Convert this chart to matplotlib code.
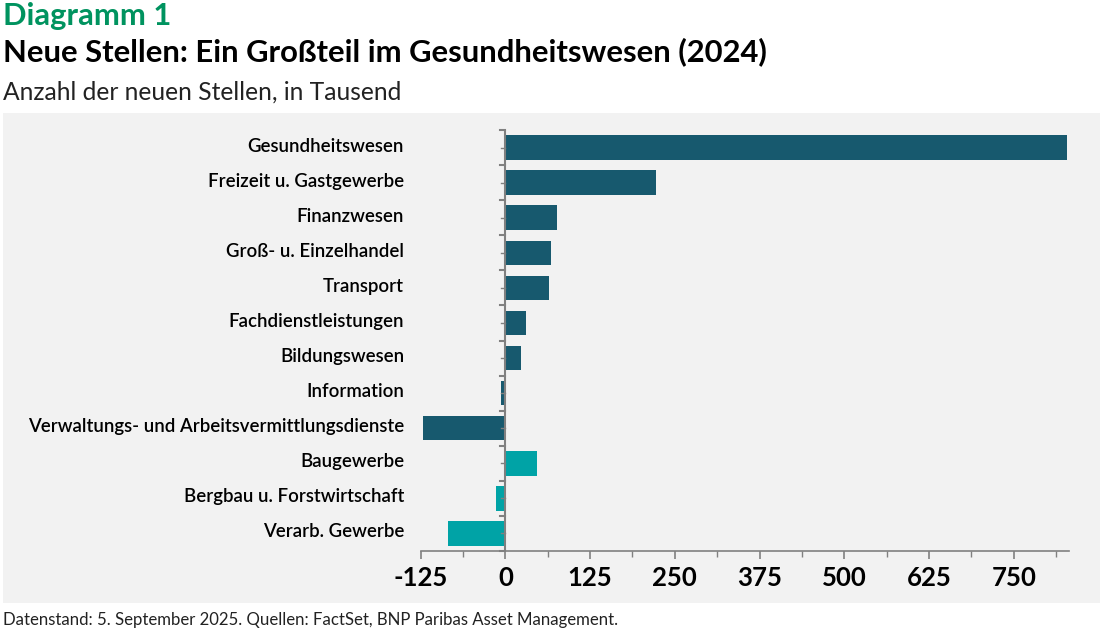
import matplotlib
matplotlib.use("Agg")
import matplotlib.pyplot as plt
from matplotlib.patches import Rectangle
from matplotlib.ticker import MultipleLocator
from matplotlib.transforms import ScaledTranslation

categories = [
    "Gesundheitswesen",
    "Freizeit u. Gastgewerbe",
    "Finanzwesen",
    "Groß- u. Einzelhandel",
    "Transport",
    "Fachdienstleistungen",
    "Bildungswesen",
    "Information",
    "Verwaltungs- und Arbeitsvermittlungsdienste",
    "Baugewerbe",
    "Bergbau u. Forstwirtschaft",
    "Verarb. Gewerbe",
]
values = [828, 222, 76, 67, 64, 31, 23, -6, -121, 47, -14, -84]
groups = ["service"] * 9 + ["goods"] * 3
xticks = [-125, 0, 125, 250, 375, 500, 625, 750]

colors = {"service": "#17596E", "goods": "#00A3A6"}
FONT = "Lato"
plt.rcParams["font.family"] = [FONT, "DejaVu Sans"]

W, H = 1102, 631
fig = plt.figure(figsize=(W / 100, H / 100), dpi=100)
fig.patch.set_facecolor("white")

# panel background
fig.add_artist(Rectangle((3 / W, 1 - 603 / H), 1097 / W, 490 / H,
                         transform=fig.transFigure, facecolor="#F2F2F2",
                         edgecolor="none", zorder=0))

ax = fig.add_axes([420.7 / W, 1 - 551 / H, (1069.3 - 420.7) / W, (551 - 130) / H])
ax.set_facecolor("none")

y = list(range(len(categories)))
ax.barh(y, values, height=0.7, color=[colors[g] for g in groups], zorder=2)
ax.set_ylim(len(categories) - 0.5, -0.5)
ax.set_xlim(-125, 832)

for s in ["top", "right", "left"]:
    ax.spines[s].set_visible(False)
ax.spines["bottom"].set_color("#808080")
ax.spines["bottom"].set_linewidth(1.2)
ax.axvline(0, color="#808080", lw=1.5, zorder=3)

ax.set_xticks(xticks)
ax.set_xticklabels([str(v) for v in xticks])
ax.xaxis.set_minor_locator(MultipleLocator(62.5))
ax.tick_params(axis="x", which="major", length=6, width=1.2, color="#808080",
               labelsize=18.5, pad=5)
ax.tick_params(axis="x", which="minor", length=4, width=1.0, color="#808080")
for lab in ax.get_xticklabels():
    lab.set_fontweight("bold")

ax.set_yticks(y)
ax.set_yticklabels(categories)
ax.tick_params(axis="y", which="major", length=0, labelsize=13.4, pad=12)
shift = ScaledTranslation(0, 3 / 100, fig.dpi_scale_trans)
for lab in ax.get_yticklabels():
    lab.set_fontweight("semibold")
    lab.set_transform(lab.get_transform() + shift)

# y tick marks on the zero line (centers and boundaries)
for i in y:
    ax.plot([-6, 0], [i, i], color="#808080", lw=1.0, zorder=3, clip_on=False)
for b in range(len(categories) + 1):
    ax.plot([-8, 0], [b - 0.5, b - 0.5], color="#808080", lw=1.5, zorder=3,
            clip_on=False)

fig.text(3 / W, 1 - 16 / H, "Diagramm 1", color="#00935F", fontsize=22.3,
         fontweight="bold", va="center", ha="left")
fig.text(3 / W, 1 - 52 / H, "Neue Stellen: Ein Großteil im Gesundheitswesen (2024)",
         color="black", fontsize=22.3, fontweight="bold", va="center", ha="left")
fig.text(3 / W, 1 - 92 / H, "Anzahl der neuen Stellen, in Tausend",
         color="#222222", fontsize=17.7, fontweight="normal", va="center", ha="left")
fig.text(3 / W, 1 - 620 / H,
         "Datenstand: 5. September 2025. Quellen: FactSet, BNP Paribas Asset Management.",
         color="#222222", fontsize=12.1, va="center", ha="left")

fig.savefig("out.png", dpi=100, facecolor="white")
